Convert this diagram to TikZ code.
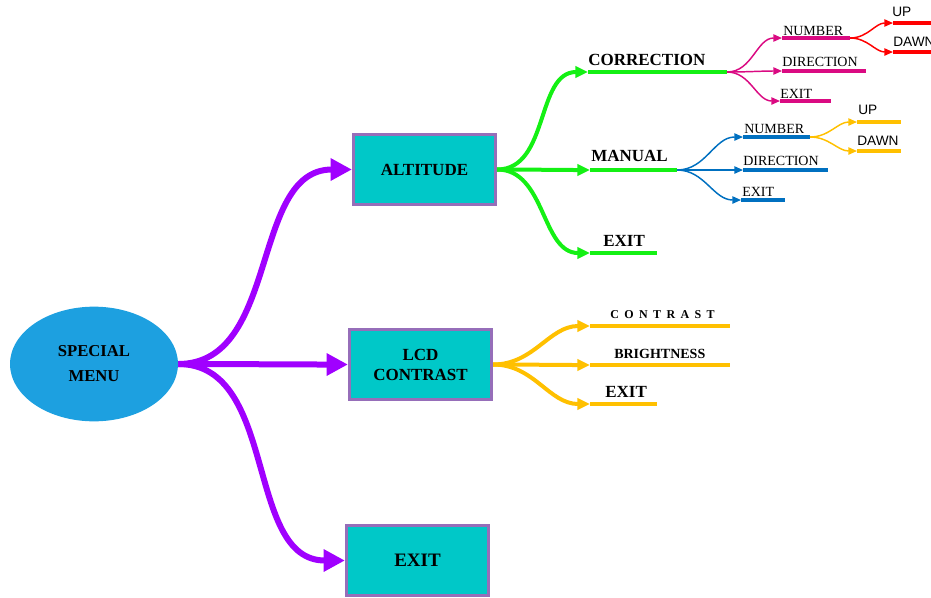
\documentclass[tikz,border=0pt]{standalone}
\usepackage{fontspec}
\setmainfont{Liberation Serif}
\newfontfamily\labelsans{Liberation Sans}
\newfontfamily\spacedserif[LetterSpace=45]{Liberation Serif}
\usetikzlibrary{arrows.meta,shapes.geometric}

\definecolor{menublue}{RGB}{29,160,224}
\definecolor{trunkpurple}{RGB}{160,0,255}
\definecolor{boxcyan}{RGB}{0,200,200}
\definecolor{boxedge}{RGB}{150,110,185}
\definecolor{boxedgedark}{RGB}{105,65,140}
\definecolor{leafgreen}{RGB}{20,240,20}
\definecolor{leafpink}{RGB}{218,10,130}
\definecolor{leafred}{RGB}{255,0,0}
\definecolor{leafblue}{RGB}{0,112,192}
\definecolor{leafgold}{RGB}{255,192,0}

\tikzset{
  menu/.style={ellipse, fill=menublue, inner sep=0pt, minimum width=126pt, minimum height=86pt,
    align=center, font=\bfseries\fontsize{12.5}{18.75}\selectfont},
  menubox/.style={draw=boxedge, line width=2.4pt, fill=boxcyan, inner sep=0pt,
    minimum width=106.5pt, minimum height=52.5pt, align=center,
    font=\bfseries\fontsize{12.75}{15}\selectfont,
    path picture={\draw[boxedgedark, line width=0.9pt]
      ([shift={(0.9pt,-0.9pt)}]path picture bounding box.north west) rectangle
      ([shift={(-0.9pt,0.9pt)}]path picture bounding box.south east);}},
  trunk/.style={draw=trunkpurple, line width=4.5pt, -{Triangle[length=16pt,width=16pt]}},
  bigbranch/.style={draw=#1, line width=3pt, -{Triangle[length=9.5pt,width=8.5pt]}},
  smallbranch/.style={draw=#1, line width=1.1pt, -{Triangle[length=6.5pt,width=5.5pt]}},
  bar/.style={draw=#1, line width=3pt},
  mainlabel/.style={anchor=base west, inner sep=0pt, font=\bfseries\fontsize{12.75}{15}\selectfont},
  sublabel/.style={anchor=base west, inner sep=0pt, font=\fontsize{10.5}{12}\selectfont},
  sanslabel/.style={anchor=base west, inner sep=0pt, font=\labelsans\fontsize{10.25}{12}\selectfont},
}

\begin{document}
\begin{tikzpicture}[x=0.75pt,y=-0.75pt]
\useasboundingbox (0,0) rectangle (931,597);

% main menu and its three entries
\node[menu] (menu) at (94,364) {SPECIAL\\MENU};
\node[menubox] (alt) at (424.5,169.5) {ALTITUDE};
\node[menubox] (lcd) at (420.5,364.5) {LCD\\CONTRAST};
\node[menubox, font=\bfseries\fontsize{14.25}{16}\selectfont] (quit) at (417.5,560.5) {EXIT};

\draw[trunk] (menu.east) to[out=0,in=180] (alt.west);
\draw[trunk] (menu.east) to[out=0,in=180] (lcd.west);
\draw[trunk] (menu.east) to[out=0,in=180] (quit.west);

% ALTITUDE submenu
\coordinate (corr) at (588,72);  \coordinate (corr-e) at (727,72);
\coordinate (man) at (590,170);  \coordinate (man-e) at (677,170);
\coordinate (aex) at (590,253);  \coordinate (aex-e) at (657,253);
\draw[bar=leafgreen] (corr) -- (corr-e);
\draw[bar=leafgreen] (man) -- (man-e);
\draw[bar=leafgreen] (aex) -- (aex-e);
\draw[bigbranch=leafgreen] (alt.east) to[out=0,in=180] (corr);
\draw[bigbranch=leafgreen] (alt.east) to[out=0,in=180] (man);
\draw[bigbranch=leafgreen] (alt.east) to[out=0,in=180] (aex);
\node[mainlabel] (corr-t) at (588,65) {CORRECTION};
\node[mainlabel] (man-t) at (591,161) {MANUAL};
\node[mainlabel] (aex-t) at (603,246) {EXIT};

% CORRECTION submenu
\coordinate (cnum) at (782,38);  \coordinate (cnum-e) at (850,38);
\coordinate (cdir) at (782,71);  \coordinate (cdir-e) at (866,71);
\coordinate (cex) at (780,101);  \coordinate (cex-e) at (831,101);
\draw[bar=leafpink] (cnum) -- (cnum-e);
\draw[bar=leafpink] (cdir) -- (cdir-e);
\draw[bar=leafpink] (cex) -- (cex-e);
\draw[smallbranch=leafpink] (corr-e) to[out=0,in=180] (cnum);
\draw[smallbranch=leafpink] (corr-e) to[out=0,in=180] (cdir);
\draw[smallbranch=leafpink] (corr-e) to[out=0,in=180] (cex);
\node[sublabel] (cnum-t) at (783,35) {NUMBER};
\node[sublabel] (cdir-t) at (782,66) {DIRECTION};
\node[sublabel] (cex-t) at (780,98) {EXIT};

\coordinate (cup) at (893,23);   \coordinate (cup-e) at (935,23);
\coordinate (cdn) at (893,52);   \coordinate (cdn-e) at (935,52);
\draw[bar=leafred] (cup) -- (cup-e);
\draw[bar=leafred] (cdn) -- (cdn-e);
\draw[smallbranch=leafred] (cnum-e) to[out=0,in=180] (cup);
\draw[smallbranch=leafred] (cnum-e) to[out=0,in=180] (cdn);
\node[sanslabel] (cup-t) at (892,16) {UP};
\node[sanslabel] (cdn-t) at (893,46) {DAWN};

% MANUAL submenu
\coordinate (mnum) at (743,137); \coordinate (mnum-e) at (810,137);
\coordinate (mdir) at (743,170); \coordinate (mdir-e) at (828,170);
\coordinate (mex) at (741,200);  \coordinate (mex-e) at (785,200);
\draw[bar=leafblue] (mnum) -- (mnum-e);
\draw[bar=leafblue] (mdir) -- (mdir-e);
\draw[bar=leafblue] (mex) -- (mex-e);
\draw[smallbranch=leafblue] (man-e) to[out=0,in=180] (mnum);
\draw[smallbranch=leafblue] (man-e) to[out=0,in=180] (mdir);
\draw[smallbranch=leafblue] (man-e) to[out=0,in=180] (mex);
\node[sublabel] (mnum-t) at (744,133) {NUMBER};
\node[sublabel] (mdir-t) at (743,165) {DIRECTION};
\node[sublabel] (mex-t) at (742,196) {EXIT};

\coordinate (mup) at (857,122);  \coordinate (mup-e) at (901,122);
\coordinate (mdn) at (857,151);  \coordinate (mdn-e) at (901,151);
\draw[bar=leafgold] (mup) -- (mup-e);
\draw[bar=leafgold] (mdn) -- (mdn-e);
\draw[smallbranch=leafgold] (mnum-e) to[out=0,in=180] (mup);
\draw[smallbranch=leafgold] (mnum-e) to[out=0,in=180] (mdn);
\node[sanslabel] (mup-t) at (858,114) {UP};
\node[sanslabel] (mdn-t) at (857,145) {DAWN};

% LCD CONTRAST submenu
\coordinate (lcon) at (590,326); \coordinate (lcon-e) at (730,326);
\coordinate (lbri) at (590,365); \coordinate (lbri-e) at (730,365);
\coordinate (lex) at (590,404);  \coordinate (lex-e) at (657,404);
\draw[bar=leafgold] (lcon) -- (lcon-e);
\draw[bar=leafgold] (lbri) -- (lbri-e);
\draw[bar=leafgold] (lex) -- (lex-e);
\draw[bigbranch=leafgold] (lcd.east) to[out=0,in=180] (lcon);
\draw[bigbranch=leafgold] (lcd.east) to[out=0,in=180] (lbri);
\draw[bigbranch=leafgold] (lcd.east) to[out=0,in=180] (lex);
\node[mainlabel, font=\spacedserif\bfseries\fontsize{9}{11}\selectfont] (lcon-t) at (610,318) {CONTRAST};
\node[mainlabel, font=\bfseries\fontsize{10.5}{12}\selectfont] (lbri-t) at (614,358) {BRIGHTNESS};
\node[mainlabel] (lex-t) at (605,397) {EXIT};
\end{tikzpicture}
\end{document}
